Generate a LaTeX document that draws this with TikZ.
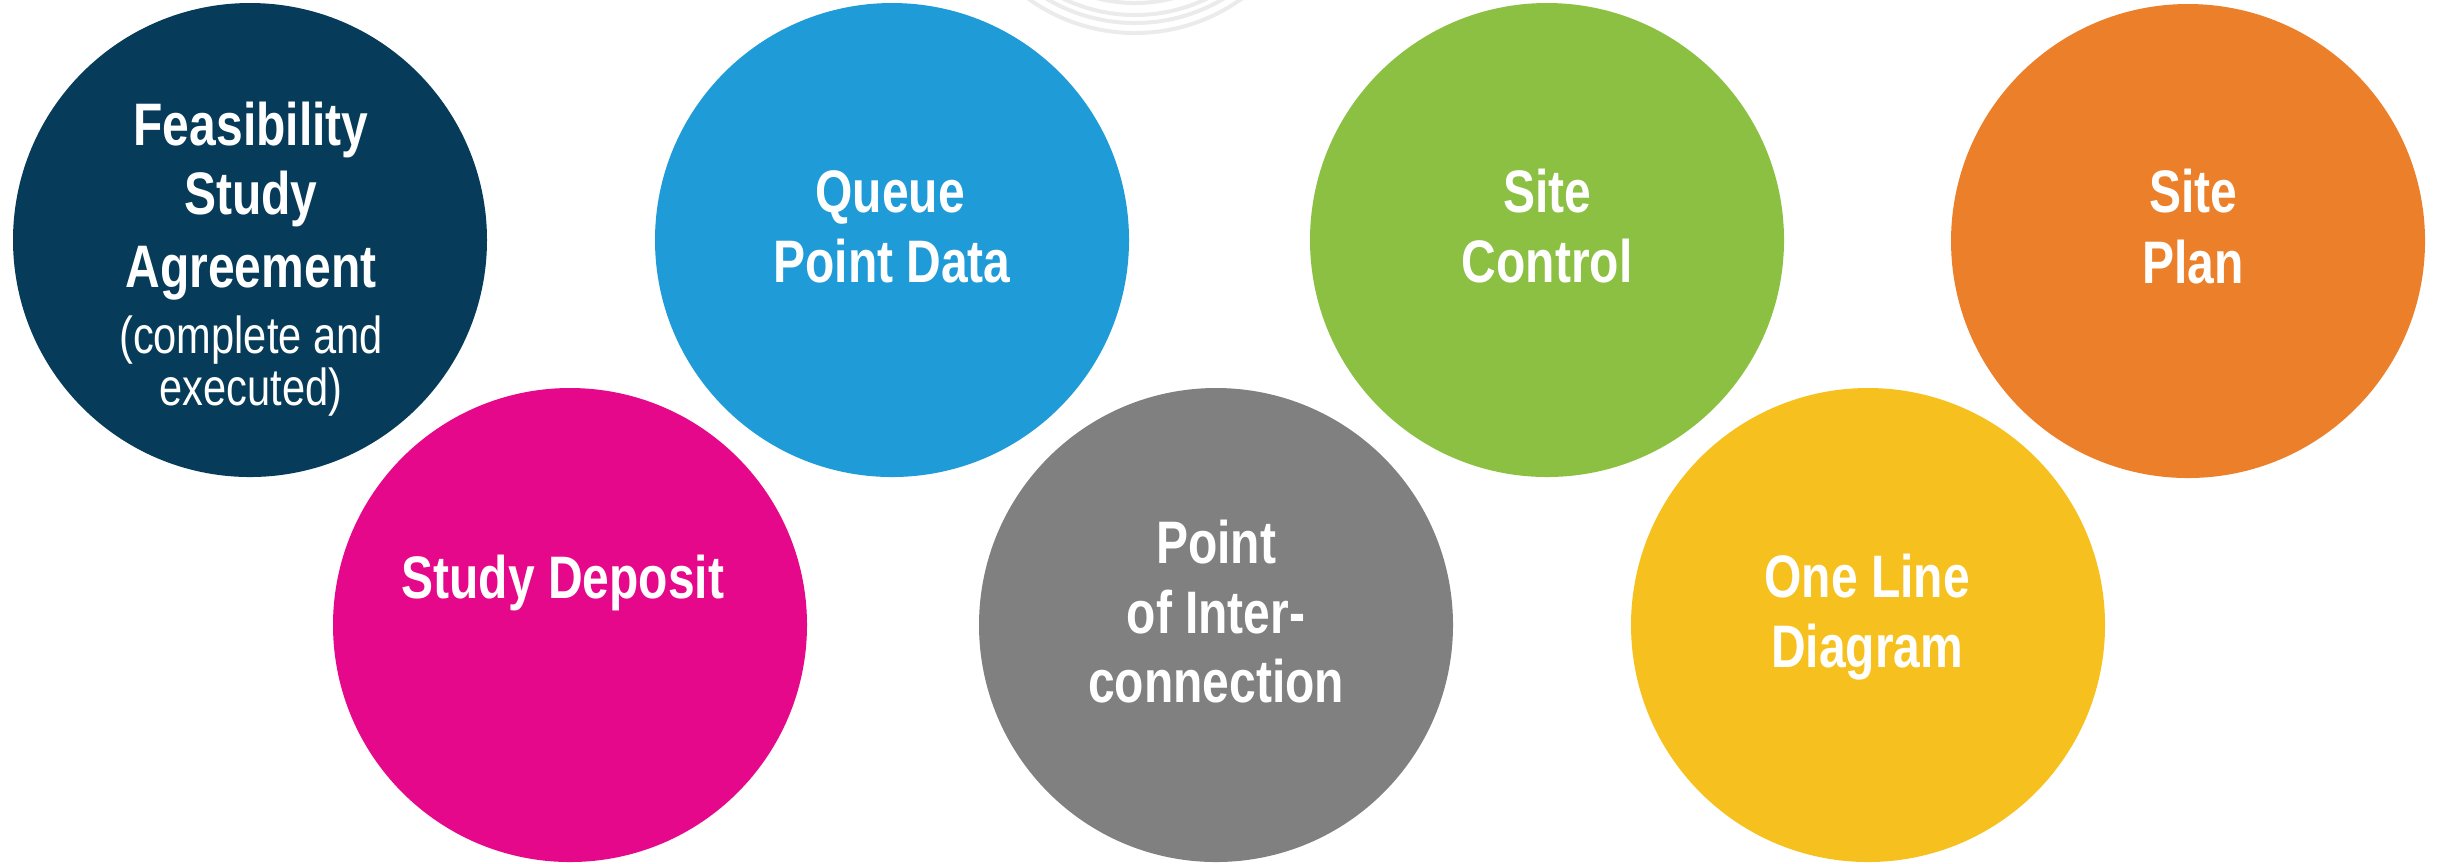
\documentclass[tikz,border=0pt]{standalone}
\usepackage{fontspec}
\setmainfont{Liberation Sans}[FakeStretch=0.8]
\definecolor{cnavy}{HTML}{063C5A}
\definecolor{cblue}{HTML}{1F9BD7}
\definecolor{cgreen}{HTML}{8BC043}
\definecolor{corange}{HTML}{EC7F29}
\definecolor{cmagenta}{HTML}{E6088A}
\definecolor{cgray}{HTML}{808080}
\definecolor{cyellow}{HTML}{F6C11E}
\definecolor{carc}{HTML}{EBEBEB}
\begin{document}
\begin{tikzpicture}[x=0.3pt,y=-0.3pt,
  disc/.style={circle, inner sep=0pt, minimum size=142.2pt, draw=none},
  bigt/.style={anchor=base, text=white, inner sep=0pt, font=\bfseries\fontsize{18pt}{21pt}\selectfont},
  smallt/.style={anchor=base, text=white, inner sep=0pt, font=\fontsize{15.6pt}{16pt}\selectfont},
  faint/.style={draw=carc, line width=1.2pt}]
\useasboundingbox (0,0) rectangle (2438,863);
\begin{scope}
\clip (0,0) rectangle (2438,863);
\draw[faint] (1135,-150) circle[radius=183];
\draw[faint] (1135,-150) circle[radius=173];
\draw[faint] (1135,-150) circle[radius=165];
\draw[faint] (1135,-150) circle[radius=153];
\end{scope}
% top row
\node[disc, fill=cnavy]   (fsa) at (250,240) {};
\node[disc, fill=cblue]   (qpd) at (892,240) {};
\node[disc, fill=cgreen]  (sc)  at (1547,240) {};
\node[disc, fill=corange] (sp)  at (2188,241) {};
% bottom row
\node[disc, fill=cmagenta] (sd)  at (570,625) {};
\node[disc, fill=cgray]    (poi) at (1216,625) {};
\node[disc, fill=cyellow]  (old) at (1868,625) {};
% texts
\node[bigt] (fsa1) at (251,145) {Feasibility};
\node[bigt] (fsa2) at (251,214) {Study};
\node[bigt] (fsa3) at (251,287) {Agreement};
\node[smallt] (fsa4) at (251,353) {(complete and};
\node[smallt] (fsa5) at (251,405) {executed)};
\node[bigt] (qpd1) at (890,212) {Queue};
\node[bigt] (qpd2) at (892,282) {Point Data};
\node[bigt] (sc1) at (1547,212) {Site};
\node[bigt] (sc2) at (1547,282) {Control};
\node[bigt] (sp1) at (2193,212) {Site};
\node[bigt] (sp2) at (2193,283) {Plan};
\node[bigt] (sd1) at (563,598) {Study Deposit};
\node[bigt] (poi1) at (1216,563) {Point};
\node[bigt] (poi2) at (1216,633) {of Inter-};
\node[bigt] (poi3) at (1216,702) {connection};
\node[bigt] (old1) at (1867,597) {One Line};
\node[bigt] (old2) at (1867,667) {Diagram};
\end{tikzpicture}
\end{document}
